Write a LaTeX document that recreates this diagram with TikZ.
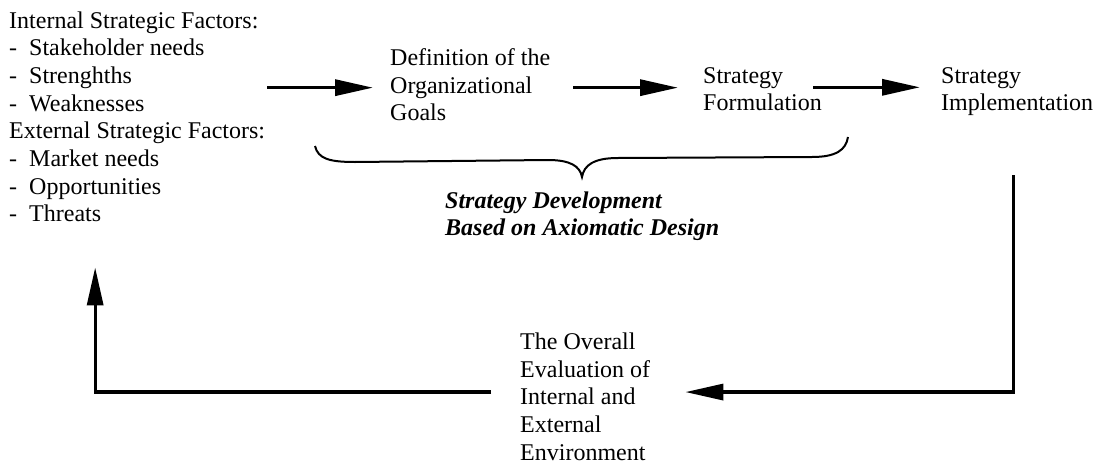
\documentclass[tikz,border=0pt]{standalone}
\usepackage{fontspec}
\setmainfont{Liberation Serif}
\usetikzlibrary{arrows.meta}
\tikzset{
  txt/.style={inner sep=0pt, anchor=base west, font=\fontsize{24}{27.7}\selectfont},
  arr/.style={line width=3.3pt, line join=miter, -{Triangle[length=38pt,width=16pt]}},
  brace/.style={line width=2pt}
}
\begin{document}
\begin{tikzpicture}[x=1pt,y=-1pt]
\useasboundingbox (0,0) rectangle (1102,463);
\node[txt] (left) at (9,28) {\begin{tabular}[t]{@{}l@{}}Internal Strategic Factors:\\
-\ \ Stakeholder needs\\
-\ \ Strenghths\\
-\ \ Weaknesses\\
External Strategic Factors:\\
-\ \ Market needs\\
-\ \ Opportunities\\
-\ \ Threats\end{tabular}};
\node[txt] (def) at (390,65.5) {\begin{tabular}[t]{@{}l@{}}Definition of the\\Organizational\\Goals\end{tabular}};
\node[txt] (form) at (703,83) {\begin{tabular}[t]{@{}l@{}}Strategy\\Formulation\end{tabular}};
\node[txt] (impl) at (941,83) {\begin{tabular}[t]{@{}l@{}}Strategy\\Implementation\end{tabular}};
\node[txt] (sd) at (445,208) {\begin{tabular}[t]{@{}l@{}}\textbf{\textit{Strategy Development}}\\\textbf{\textit{Based on Axiomatic Design}}\end{tabular}};
\node[txt] (eval) at (520,349.5) {\begin{tabular}[t]{@{}l@{}}The Overall\\Evaluation of\\Internal and\\External\\Environment\end{tabular}};
% arrows
\draw[arr, shorten <=2pt, shorten >=17pt] (left.east |- def.west) -- (def.west);
\draw[arr, shorten <=23pt, shorten >=25pt] (def.east) -- (def.east -| form.west);
\draw[arr] ([xshift=-9pt,yshift=4pt]form.east) -- ([xshift=-21pt,yshift=4pt]impl.west);
\draw[arr, shorten >=35pt] ([xshift=-4pt,yshift=-56pt]impl.south) |- ([yshift=7.3pt]eval.east);
\draw[arr, shorten <=29pt, shorten >=37pt] ([yshift=7.3pt]eval.west) -| ([xshift=-42pt]left.south);
% brace
\draw[brace] (315,146) .. controls (318,159) and (330,162) .. (355,162) -- (548,160)
  .. controls (570,160) and (580,166) .. (582,177)
  .. controls (584,165) and (594,158) .. (618,158) -- (812,157)
  .. controls (836,157) and (846,150) .. (848,137);
\end{tikzpicture}
\end{document}
